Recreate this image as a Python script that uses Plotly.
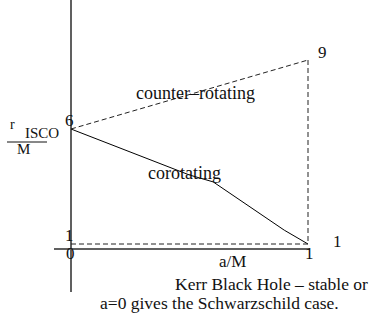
import plotly.graph_objects as go

# Innermost stable circular orbit radius r_ISCO/M versus spin a/M
spin = [0.0, 0.25, 0.5, 0.6, 0.75, 0.9, 1.0]
r_corot = [6.0, 5.0, 4.0, 3.7, 2.65, 1.6, 1.0]

# counter-rotating branch (end points)
spin_counter = [0.0, 1.0]
r_counter = [6.0, 9.0]

# horizon-limit level
r_floor = 1.0

x_ticks = ["0", "1"]

SERIF = "Liberation Serif"
INK = "#111111"
AXIS_INK = "#606060"
DASH = "5px,3px"

Y_RANGE = [-1.087, 11.609]
X_RANGE = [-0.0717, 1.0084]
PLOT_H = 292           # plot-area height in pixels
AXIS_POS = 0.1473      # height of the a/M axis line within the plot area

fig = go.Figure()

fig.add_trace(go.Scatter(
    x=spin, y=r_corot, mode="lines",
    line=dict(color="black", width=1), hoverinfo="skip"))
fig.add_trace(go.Scatter(
    x=spin_counter, y=r_counter, mode="lines",
    line=dict(color="#222222", width=1, dash=DASH), hoverinfo="skip"))
fig.add_trace(go.Scatter(
    x=[spin[0], spin[-1]], y=[r_floor, r_floor], mode="lines",
    line=dict(color="#222222", width=1, dash=DASH), hoverinfo="skip"))
fig.add_trace(go.Scatter(
    x=[spin_counter[-1], spin_counter[-1]], y=[r_counter[-1], r_corot[-1]],
    mode="lines",
    line=dict(color="#222222", width=1, dash=DASH), hoverinfo="skip"))


def label(text, x, y, dx=0, dy=0, size=17, xref="x", yref="y", anchor="center"):
    fig.add_annotation(
        text=text, x=x, y=y, xref=xref, yref=yref, xshift=dx, yshift=dy,
        showarrow=False, xanchor=anchor, yanchor="middle",
        font=dict(family=SERIF, size=size, color=INK))


# value labels at the branch end points
label(f"{r_counter[0]:g}", spin_counter[0], r_counter[0], dx=-1, dy=9)
label(f"{r_counter[-1]:g}", spin_counter[-1], r_counter[-1], dx=14, dy=8)
label(f"{r_corot[-1]:g}", spin[-1], r_corot[-1], dx=29, dy=3)
label(f"{r_floor:g}", spin[0], r_floor, dx=-1, dy=9)

# a/M axis tick labels and title
label(x_ticks[0], 0, AXIS_POS, dx=0, dy=-5, yref="paper")
label(x_ticks[1], 1, AXIS_POS, dx=1, dy=-5, yref="paper")
label("a/M", 0.68, AXIS_POS, dy=-13, size=17, yref="paper")

# vertical axis title r_ISCO / M, set beside the a = 0 value
label("r", spin[0], r_counter[0], dx=-58, dy=5, size=14)
label("ISCO", spin[0], r_counter[0], dx=-29, dy=-4, size=15)
label("M", spin[0], r_counter[0], dx=-47, dy=-20, size=15)
six_frac = (r_counter[0] - Y_RANGE[0]) / (Y_RANGE[1] - Y_RANGE[0])
bar_y = six_frac - 13 / PLOT_H
fig.add_shape(
    type="line", xref="paper", yref="paper",
    x0=-47 / 256, x1=-7 / 256, y0=bar_y, y1=bar_y,
    line=dict(color=INK, width=1))

# branch names, centred on their curves
t_counter = 0.527
label("counter\u2013rotating", t_counter,
      r_counter[0] + t_counter * (r_counter[1] - r_counter[0]), size=18)
label("corotating", 0.48, 4.08, size=18)

# caption
label("Kerr Black Hole \u2013 stable or", 0.4629, 0.027,
      xref="paper", yref="paper", size=17.5, anchor="left")
label("a=0 gives the Schwarzschild case.", 0.6465, -0.038,
      xref="paper", yref="paper", size=17.5)

fig.update_xaxes(
    range=X_RANGE, showgrid=False, showticklabels=False, ticks="",
    zeroline=True, zerolinecolor=AXIS_INK, zerolinewidth=1.5,
    showline=True, linecolor=AXIS_INK, linewidth=1.5,
    anchor="free", position=AXIS_POS)
fig.update_yaxes(
    range=Y_RANGE, showgrid=False, showticklabels=False, ticks="",
    zeroline=False, showline=False)

fig.update_layout(
    width=371, height=321, autosize=False,
    margin=dict(l=54, r=61, t=0, b=321 - PLOT_H),
    paper_bgcolor="white", plot_bgcolor="white",
    showlegend=False)

fig.write_html("out.html")
